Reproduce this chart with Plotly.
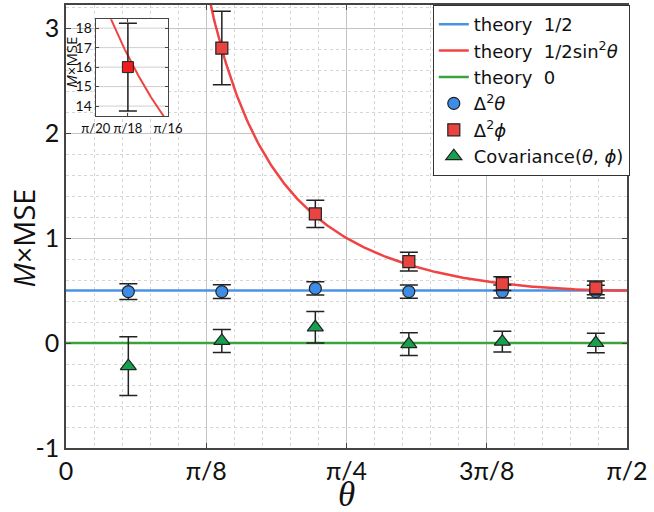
import numpy as np
import plotly.graph_objects as go

# ---- data ----
theta_deg = [10, 25, 40, 55, 70, 85]
var_theta = [0.49, 0.49, 0.52, 0.49, 0.49, 0.49]
var_theta_err = [0.075, 0.065, 0.063, 0.063, 0.062, 0.06]
var_phi = [16.0, 2.81, 1.23, 0.775, 0.566, 0.525]
var_phi_err = [2.25, 0.35, 0.13, 0.09, 0.065, 0.065]
cov = [-0.22, 0.02, 0.15, -0.01, 0.013, 0.0]
cov_err = [0.28, 0.11, 0.15, 0.108, 0.098, 0.093]

x_ticktext = ["0", "π/8", "π/4", "3π/8", "π/2"]
y_tickvals = [-1, 0, 1, 2, 3]
y_ticktext = ["-1", "0", "1", "2", "3"]
inset_ticktext = ["π/20", "π/18", "π/16"]
inset_yticks = [14, 15, 16, 17, 18]

PI = np.pi
x_pts = [d * PI / 180 for d in theta_deg]
inset_xrange = [PI / 20, PI / 16]
inset_yrange = [13.48, 18.46]

BLUE_LINE = "#4a93e4"
RED_LINE = "#f04444"
GREEN_LINE = "#3aa43a"
BLUE_M = "#3d8ce8"
RED_M = "#ea4440"
GREEN_M = "#17a050"
INK = "#222222"
FONT = "Lato, Open Sans, sans-serif"

fig = go.Figure()

# theory curves
xx = [0, PI / 2]
fig.add_trace(go.Scatter(x=xx, y=[0.5, 0.5], mode="lines",
                         line=dict(color=BLUE_LINE, width=2.5),
                         name="theory  1/2"))
xr = np.linspace(0.25, PI / 2, 300)
fig.add_trace(go.Scatter(x=xr, y=0.5 / np.sin(xr) ** 2, mode="lines",
                         line=dict(color=RED_LINE, width=2.5),
                         name="theory  1/2sin<sup>2</sup><i>θ</i>"))
fig.add_trace(go.Scatter(x=xx, y=[0, 0], mode="lines",
                         line=dict(color=GREEN_LINE, width=2.5),
                         name="theory  0"))


def err(vals):
    return dict(type="data", array=vals, visible=True, color=INK,
                thickness=1.5, width=9)


fig.add_trace(go.Scatter(x=x_pts, y=var_theta, mode="markers",
                         error_y=err(var_theta_err),
                         marker=dict(symbol="circle", size=12, color=BLUE_M,
                                     line=dict(color=INK, width=1.2)),
                         name="Δ<sup>2</sup><i>θ</i>"))
fig.add_trace(go.Scatter(x=x_pts, y=var_phi, mode="markers",
                         error_y=err(var_phi_err),
                         marker=dict(symbol="square", size=12, color=RED_M,
                                     line=dict(color=INK, width=1.2)),
                         name="Δ<sup>2</sup><i>ϕ</i>"))
fig.add_trace(go.Scatter(x=x_pts, y=cov, mode="markers",
                         error_y=err(cov_err),
                         marker=dict(symbol="triangle-up", size=14, color=GREEN_M,
                                     line=dict(color=INK, width=1.2)),
                         name="Covariance(<i>θ</i>, <i>ϕ</i>)"))

# ---- inset ----
# white background of the inset panel (covers the main plot underneath)
fig.add_trace(go.Scatter(
    x=[inset_xrange[0], inset_xrange[1], inset_xrange[1], inset_xrange[0], inset_xrange[0]],
    y=[inset_yrange[0], inset_yrange[0], inset_yrange[1], inset_yrange[1], inset_yrange[0]],
    mode="lines", fill="toself", fillcolor="white", line=dict(width=0, color="white"),
    xaxis="x2", yaxis="y2", showlegend=False, hoverinfo="skip"))
# inset grid lines
for yv in inset_yticks:
    fig.add_trace(go.Scatter(x=inset_xrange, y=[yv, yv], mode="lines",
                             line=dict(color="#cfcfcf", width=1),
                             xaxis="x2", yaxis="y2", showlegend=False, hoverinfo="skip"))
fig.add_trace(go.Scatter(x=[PI / 18, PI / 18], y=inset_yrange, mode="lines",
                         line=dict(color="#cfcfcf", width=1),
                         xaxis="x2", yaxis="y2", showlegend=False, hoverinfo="skip"))

xi = np.linspace(PI / 20, PI / 16, 200)
fig.add_trace(go.Scatter(x=xi, y=0.5 / np.sin(xi) ** 2, mode="lines",
                         line=dict(color=RED_LINE, width=2),
                         xaxis="x2", yaxis="y2", showlegend=False))
fig.add_trace(go.Scatter(x=x_pts[:1], y=var_phi[:1], mode="markers",
                         error_y=dict(type="data", array=var_phi_err[:1], visible=True,
                                      color=INK, thickness=1.5, width=9),
                         marker=dict(symbol="square", size=11, color="#ee1c1c",
                                     line=dict(color=INK, width=1)),
                         xaxis="x2", yaxis="y2", showlegend=False))

TICKFONT = dict(family=FONT, size=25, color="#111")

fig.update_layout(
    width=654, height=512, autosize=False,
    margin=dict(l=66, r=27, t=5, b=64, pad=0, autoexpand=False),
    paper_bgcolor="white", plot_bgcolor="white",
    showlegend=True,
    legend=dict(x=1.005, y=1.0, xanchor="right", yanchor="top",
                bgcolor="white", bordercolor="#333", borderwidth=1,
                font=dict(family="DejaVu Sans, Open Sans, sans-serif", size=18, color="#111"),
                tracegroupgap=0, itemwidth=30),
    xaxis=dict(range=[0, PI / 2], tickvals=[i * PI / 8 for i in range(5)],
               ticktext=x_ticktext, tickfont=TICKFONT, automargin=False, tickangle=0,
               showgrid=True, gridcolor="#c4c4c4", gridwidth=1.3,
               minor=dict(dtick=PI / 40, showgrid=True, gridcolor="#d6d6d6",
                          griddash="dot", gridwidth=1),
               ticks="inside", ticklen=5, tickcolor="#444",
               showline=True, linecolor="#444", linewidth=1.5, mirror="ticks",
               zeroline=False),
    yaxis=dict(range=[-1, 3.22], tickvals=y_tickvals, ticktext=y_ticktext,
               tickfont=TICKFONT, ticklabelstandoff=0, automargin=False,
               showgrid=True, gridcolor="#c4c4c4", gridwidth=1.3,
               minor=dict(dtick=0.2, showgrid=True, gridcolor="#d6d6d6",
                          griddash="dot", gridwidth=1),
               ticks="inside", ticklen=5, tickcolor="#444",
               showline=True, linecolor="#444", linewidth=1.5, mirror="ticks",
               zeroline=False),
    xaxis2=dict(domain=[0.053, 0.182], anchor="y2", range=inset_xrange,
                tickvals=[PI / 20, PI / 18, PI / 16], ticktext=inset_ticktext,
                tickfont=dict(family=FONT, size=13, color="#111"),
                tickangle=0, automargin=False, showgrid=False,
                ticks="inside", ticklen=3, tickcolor="#444",
                showline=True, linecolor="#444", linewidth=1.2, mirror="ticks",
                zeroline=False),
    yaxis2=dict(domain=[0.749, 0.968], anchor="x2", range=inset_yrange,
                tickvals=inset_yticks, automargin=False,
                tickfont=dict(family=FONT, size=14, color="#111"),
                showgrid=False,
                ticks="inside", ticklen=3, tickcolor="#444",
                showline=True, linecolor="#444", linewidth=1.2, mirror="ticks",
                zeroline=False),
    annotations=[
        dict(text="<i>M</i>×MSE", xref="paper", yref="paper",
             x=-0.075, y=0.475, showarrow=False, textangle=-90,
             xanchor="center", yanchor="middle",
             font=dict(family="Open Sans, sans-serif", size=29, color="#111")),
        dict(text="<i>θ</i>", xref="paper", yref="paper",
             x=0.5, y=-0.104, showarrow=False, yanchor="middle",
             font=dict(family="Liberation Serif, serif", size=35, color="#111")),
        dict(text="<i>M</i>×MSE", xref="paper", yref="paper",
             x=0.010, y=0.871, showarrow=False, textangle=-90,
             xanchor="center", yanchor="middle",
             font=dict(family="Open Sans, sans-serif", size=15, color="#111")),
    ],
)

fig.write_html("out.html")
